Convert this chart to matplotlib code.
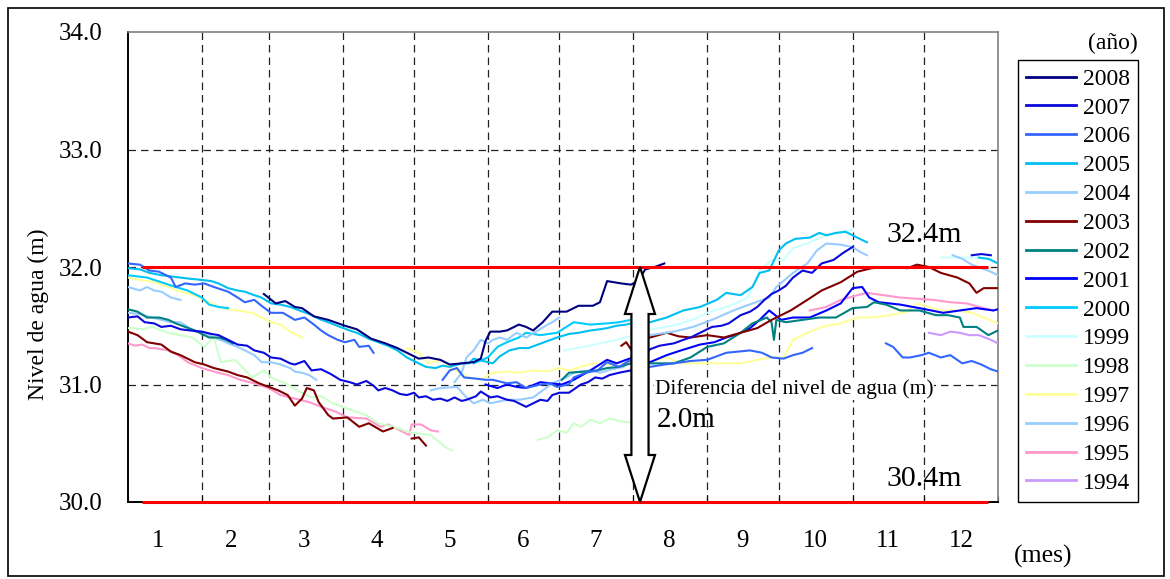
import matplotlib
matplotlib.use('Agg')
import matplotlib.pyplot as plt
from matplotlib.patches import Polygon, Rectangle
import numpy as np

nan = np.nan

# Niveles de referencia (m) y rotulos
nivel_alto = 32.0
nivel_bajo = 30.0
rotulo_alto = "32.4m"
rotulo_bajo = "30.4m"

meses = ["1", "2", "3", "4", "5", "6", "7", "8", "9", "10", "11", "12"]
limites_mes = [0, 31, 59, 90, 120, 151, 181, 212, 243, 273, 304, 334, 365]

# Nivel de agua diario por año (dia del año, m). nan = sin registro
dias_2008 = [57, 62, 66, 70, 73, 78, 84, 91, 96, 102, 108, 113, 117, 122, 126, 131, 135, 140, 145, 148,
             150, 152, 156, 159, 164, 167, 170, 174, 178, 184, 189, 195, 198, 201, 207, 211, 214, 217, 221, 225]
nivel_2008 = [31.77, 31.69, 31.71, 31.66, 31.65, 31.58, 31.55, 31.50, 31.47, 31.39, 31.35, 31.31, 31.27, 31.22,
              31.23, 31.21, 31.17, 31.18, 31.19, 31.22, 31.37, 31.45, 31.45, 31.46, 31.51, 31.49, 31.46, 31.53,
              31.62, 31.62, 31.67, 31.67, 31.70, 31.88, 31.86, 31.85, 31.88, 31.98, 32.00, 32.03]

dias_2007 = [0, 4, 7, 11, 14, 18, 22, 26, 31, 35, 38, 42, 46, 50, 53, 57, 60, 64, 68, 70, 74, 77, 81, 85,
             89, 93, 96, 100, 103, 105, 108, 111, 114, 117, 120, 122, 125, 128, 131, 134, 137, 140, 142,
             146, 148, 152, 155, 159, 162, 164, 167, 170, 173, 176, 178, 181, 185, 190, 193, 196, 199,
             202, 206, 211, 219, 223, 229, 233, 236, 240, 245, 249, 252, 257, 261, 264, 267, 270, 273,
             276, 279, 283, 287, 291, 296, 300, 304, 305, 354, 358, 362]
nivel_2007 = [31.57, 31.58, 31.53, 31.52, 31.49, 31.50, 31.47, 31.46, 31.45, 31.43, 31.42, 31.38, 31.34,
              31.33, 31.29, 31.27, 31.23, 31.22, 31.18, 31.17, 31.20, 31.12, 31.13, 31.09, 31.04, 31.02,
              31.00, 31.03, 30.99, 30.95, 30.97, 30.95, 30.92, 30.91, 30.93, 30.89, 30.90, 30.87, 30.88,
              30.86, 30.89, 30.86, 30.87, 30.90, 30.94, 30.89, 30.90, 30.87, 30.86, 30.84, 30.81, 30.84,
              30.87, 30.86, 30.91, 30.93, 30.93, 31.00, 31.02, 31.06, 31.05, 31.08, 31.10, 31.12, 31.30,
              31.33, 31.35, 31.38, 31.40, 31.44, 31.49, 31.50, 31.52, 31.59, 31.62, 31.66, 31.72, 31.77,
              31.80, 31.84, 31.91, 31.97, 31.95, 32.03, 32.06, 32.12, 32.17, nan, 32.10, 32.11, 32.10]

dias_2006 = [0, 5, 9, 13, 18, 20, 24, 28, 32, 36, 42, 46, 49, 53, 56, 60, 65, 70, 74, 78, 81, 84, 88, 91,
             95, 97, 101, 103, 104,
             132, 135, 138, 141, 146, 150, 153, 159, 163, 167, 173, 177, 180, 185, 187, 192, 197, 201,
             206, 211, 219, 225, 229, 236, 243, 247, 251, 256, 261, 266, 270, 275, 279, 283, 287, 288,
             318, 321, 325, 328, 333, 336, 341, 345, 350, 354, 358, 362, 365]
nivel_2006 = [32.03, 32.02, 31.97, 31.96, 31.91, 31.83, 31.86, 31.85, 31.86, 31.83, 31.79, 31.74, 31.70,
              31.72, 31.67, 31.61, 31.61, 31.55, 31.57, 31.51, 31.46, 31.42, 31.38, 31.36, 31.38, 31.32,
              31.33, 31.27, nan,
              31.04, 31.12, 31.14, 31.06, 31.05, 31.04, 31.04, 31.01, 31.02, 30.97, 31.00, 31.01, 30.98,
              31.00, 31.06, 31.10, 31.12, 31.19, 31.15, 31.21, 31.15, 31.17, 31.18, 31.20, 31.21, 31.24,
              31.27, 31.28, 31.29, 31.27, 31.23, 31.22, 31.25, 31.27, 31.31, nan,
              31.35, 31.32, 31.23, 31.23, 31.25, 31.27, 31.23, 31.25, 31.18, 31.20, 31.17, 31.13, 31.11]

dias_2005 = [0, 5, 9, 14, 18, 22, 26, 31, 35, 38, 42, 46, 49, 53, 56, 60, 64, 68, 72, 76, 80, 84, 89, 93,
             96, 101, 105, 109, 113, 117, 121, 125, 129, 132, 135, 140, 143, 145, 149, 153, 156, 160, 164,
             168, 172, 176, 180, 185, 189, 194, 198, 201, 205, 209, 213, 219, 226, 233, 240, 247, 251,
             257, 262, 265, 269, 273, 276, 280, 286, 290, 293, 297, 301, 306, 308, 310, 311,
             357, 361, 365]
nivel_2005 = [31.99, 31.98, 31.95, 31.93, 31.92, 31.91, 31.90, 31.89, 31.88, 31.86, 31.82, 31.80, 31.79,
              31.76, 31.74, 31.69, 31.68, 31.66, 31.63, 31.60, 31.56, 31.53, 31.49, 31.46, 31.44, 31.39,
              31.36, 31.33, 31.29, 31.23, 31.19, 31.15, 31.14, 31.16, 31.15, 31.18, 31.18, 31.22, 31.20,
              31.18, 31.24, 31.29, 31.31, 31.31, 31.34, 31.37, 31.40, 31.43, 31.44, 31.46, 31.47, 31.48,
              31.50, 31.51, 31.53, 31.53, 31.57, 31.63, 31.66, 31.72, 31.78, 31.76, 31.83, 31.95, 31.97,
              32.14, 32.20, 32.24, 32.25, 32.29, 32.27, 32.29, 32.30, 32.25, 32.23, 32.21, nan,
              32.08, 32.07, 32.03]

dias_2004 = [0, 5, 8, 11, 14, 18, 22, 23,
             137, 140, 142, 145, 148, 151, 153, 156, 159, 163, 167, 172, 176, 178, 181, 182,
             219, 229, 237, 245, 254, 262, 269, 272, 279, 285, 289, 293, 299, 304, 307, 310, 311,
             346, 350, 354, 358, 362, 365]
nivel_2004 = [31.83, 31.80, 31.83, 31.80, 31.79, 31.74, 31.72, nan,
              31.02, 31.10, 31.23, 31.29, 31.38, 31.35, 31.38, 31.40, 31.38, 31.44, 31.40, 31.46, 31.51,
              31.53, 31.57, nan,
              31.42, 31.45, 31.49, 31.55, 31.63, 31.69, 31.74, 31.83, 31.95, 32.03, 32.14, 32.20, 32.19,
              32.17, 32.13, 32.10, nan,
              32.10, 32.07, 32.02, 31.99, 31.96, 31.93]

dias_2003 = [0, 4, 8, 11, 14, 18, 22, 28, 32, 36, 42, 46, 50, 55, 59, 63, 67, 70, 73, 75, 78, 80, 84, 86,
             92, 97, 101, 107, 111, 115, 119, 122, 125, 126,
             207, 209, 211, 212,
             219, 226, 231, 236, 243, 250, 257, 264, 270, 278, 285, 291, 299, 306, 312, 320, 327, 331,
             336, 341, 348, 353, 356, 359, 365]
nivel_2003 = [31.45, 31.42, 31.36, 31.35, 31.34, 31.28, 31.25, 31.19, 31.17, 31.14, 31.11, 31.08, 31.06,
              31.01, 30.98, 30.95, 30.91, 30.82, 30.88, 30.97, 30.95, 30.85, 30.74, 30.71, 30.72, 30.64,
              30.67, 30.60, 30.63, nan, 30.54, 30.55, 30.48, nan,
              31.33, 31.36, 31.30, nan,
              31.40, 31.44, 31.41, 31.40, 31.42, 31.40, 31.44, 31.48, 31.55, 31.63, 31.72, 31.80, 31.87,
              31.96, 31.99, 32.00, 31.99, 32.02, 32.00, 31.95, 31.91, 31.86, 31.78, 31.82, 31.82]

dias_2002 = [0, 4, 8, 13, 17, 20, 24, 28, 34, 38, 41, 44, 45,
             182, 185, 191, 197, 201, 206, 211, 219, 229, 236, 243, 250, 257, 262, 268, 270, 271, 272,
             276, 283, 290, 297, 304, 310, 313, 318, 324, 332, 339, 344, 349, 350.5, 356, 361, 365]
nivel_2002 = [31.64, 31.62, 31.57, 31.57, 31.55, 31.52, 31.49, 31.46, 31.40, 31.40, 31.38, 31.35, nan,
              31.04, 31.10, 31.11, 31.12, 31.14, 31.15, 31.18, 31.18, 31.18, 31.23, 31.32, 31.35, 31.44,
              31.52, 31.57, 31.53, 31.38, 31.55, 31.53, 31.55, 31.57, 31.57, 31.65, 31.66, 31.70, 31.68,
              31.63, 31.63, 31.59, 31.59, 31.57, 31.49, 31.49, 31.42, 31.46]

dias_2001 = [150, 155, 159, 163, 167, 173, 177, 182, 187, 194, 201, 205, 209, 212, 219, 226, 232, 240,
             246, 251, 256, 261, 265, 269, 274, 279, 286, 293, 299, 304, 308, 311, 315, 324, 332, 337,
             342, 349, 356, 363, 365]
nivel_2001 = [31.00, 30.97, 31.00, 30.98, 30.97, 31.02, 31.01, 31.00, 31.04, 31.12, 31.21, 31.18, 31.21,
              31.23, 31.19, 31.25, 31.29, 31.34, 31.36, 31.40, 31.43, 31.48, 31.55, 31.63, 31.55, 31.57,
              31.57, 31.63, 31.69, 31.82, 31.83, 31.74, 31.70, 31.68, 31.65, 31.63, 31.61, 31.63, 31.65,
              31.63, 31.64]

dias_2000 = [0, 4, 8, 14, 20, 25, 31, 34, 38, 42, 43,
             145, 151, 155, 159, 164, 167, 173, 180, 187, 194, 201, 206, 211]
nivel_2000 = [31.93, 31.92, 31.91, 31.87, 31.83, 31.80, 31.74, 31.68, 31.66, 31.65, nan,
              31.18, 31.23, 31.32, 31.36, 31.40, 31.44, 31.42, 31.44, 31.53, 31.51, 31.52, 31.53, 31.55]

dias_1999 = [183, 191, 198, 205, 212, 213,
             219, 226, 232, 238, 243, 251, 256, 260, 265, 270, 275, 279, 286, 293, 297, 301, 304, 305,
             341, 349, 356, 362]
nivel_1999 = [31.29, 31.32, 31.35, 31.38, 31.42, nan,
              31.47, 31.49, 31.52, 31.56, 31.61, 31.66, 31.70, 31.74, 31.97, 32.06, 32.06, 32.16, 32.21,
              32.27, 32.29, 32.30, 32.32, nan,
              32.08, 32.08, 32.08, 32.06]

dias_1998 = [0, 2, 6, 10, 17, 22, 27, 32, 36, 39, 45, 52, 57, 60, 66, 71, 77, 81, 86, 94, 100, 105, 111,
             119, 127, 133, 136, 137,
             172, 176, 180, 184, 187, 190, 194, 198, 202, 208, 211]
nivel_1998 = [31.48, 31.48, 31.47, 31.49, 31.44, 31.42, 31.40, 31.32, 31.40, 31.19, 31.21, 31.06, 31.12,
              31.06, 31.01, 30.95, 30.89, 30.90, 30.84, 30.78, 30.74, 30.67, 30.64, 30.59, 30.57, 30.47,
              30.44, nan,
              30.53, 30.55, 30.61, 30.59, 30.67, 30.64, 30.70, 30.67, 30.71, 30.68, 30.68]

dias_1997 = [0, 5, 11, 17, 22, 28, 34, 39, 46, 52, 56, 60, 64, 68, 73, 74,
             117, 122, 126, 131, 135, 139, 143, 148, 153, 159, 164, 170, 176, 181, 185, 190, 195, 201,
             206, 211, 219, 226, 232, 243, 251, 257, 264, 270, 275, 279, 285, 291, 299, 306, 312, 320,
             327, 331, 336, 341, 348, 354, 365]
nivel_1997 = [31.91, 31.89, 31.87, 31.83, 31.79, 31.76, 31.70, 31.65, 31.63, 31.61, 31.57, 31.53, 31.51,
              31.45, 31.40, nan,
              31.31, 31.27, 31.18, 31.21, 31.15, 31.10, 31.06, 31.04, 31.10, 31.11, 31.10, 31.12, 31.11,
              31.14, 31.12, 31.15, 31.18, 31.17, 31.18, 31.19, 31.19, 31.23, 31.18, 31.18, 31.18, 31.18,
              31.21, 31.23, 31.23, 31.38, 31.44, 31.49, 31.52, 31.57, 31.57, 31.59, 31.62, 31.69, 31.66,
              31.63, 31.63, 31.61, 31.52]

dias_1996 = [0, 5, 10, 14, 18, 22, 28, 31, 36, 40, 42, 46, 49, 53, 56, 60, 64, 68, 70, 73, 76, 79, 80,
             127, 131, 138, 142, 145, 149, 152, 159, 164, 170, 174, 178, 184, 187, 194, 198, 203, 208, 211]
nivel_1996 = [31.61, 31.60, 31.57, 31.55, 31.53, 31.53, 31.45, 31.45, 31.40, 31.37, 31.35, 31.32, 31.29,
              31.25, 31.19, 31.19, 31.17, 31.14, 31.11, 31.10, 31.08, 31.04, nan,
              30.95, 30.97, 30.98, 30.89, 30.84, 30.87, 30.84, 30.87, 30.87, 30.89, 30.95, 31.01, 31.06,
              31.10, 31.12, 31.10, 31.13, 31.15, 31.23]

dias_1995 = [0, 3, 6, 9, 11, 14, 17, 21, 25, 31, 36, 42, 47, 53, 59, 64, 70, 76, 81, 87, 92, 100, 106,
             109, 114, 118, 119, 123, 127, 130, 131,
             286, 293, 299, 306, 310, 317, 324, 331, 338, 345, 352, 357, 363]
nivel_1995 = [31.35, 31.33, 31.34, 31.31, 31.31, 31.30, 31.29, 31.25, 31.19, 31.14, 31.11, 31.08, 31.04,
              31.01, 30.97, 30.91, 30.88, 30.85, 30.81, 30.77, 30.72, 30.71, 30.64, 30.66, 30.61, 30.57,
              30.66, 30.66, 30.61, 30.60, nan,
              31.63, 31.66, 31.72, 31.76, 31.78, 31.76, 31.74, 31.73, 31.72, 31.70, 31.69, 31.66, 31.63]

dias_1994 = [336, 341, 345, 349, 353, 357, 362, 365]
nivel_1994 = [31.44, 31.42, 31.45, 31.44, 31.42, 31.42, 31.38, 31.35]

anios = [2008, 2007, 2006, 2005, 2004, 2003, 2002, 2001, 2000, 1999, 1998, 1997, 1996, 1995, 1994]
dias = [dias_2008, dias_2007, dias_2006, dias_2005, dias_2004, dias_2003, dias_2002, dias_2001,
        dias_2000, dias_1999, dias_1998, dias_1997, dias_1996, dias_1995, dias_1994]
niveles = [nivel_2008, nivel_2007, nivel_2006, nivel_2005, nivel_2004, nivel_2003, nivel_2002, nivel_2001,
           nivel_2000, nivel_1999, nivel_1998, nivel_1997, nivel_1996, nivel_1995, nivel_1994]
colores = ['#000080', '#0A0ADC', '#3366FF', '#00C0F0', '#99CCFF', '#800000', '#008080', '#0000FF',
           '#00CCFF', '#CCFFFF', '#CCFFCC', '#FFFF99', '#99CCFF', '#FF99CC', '#CC99FF']

plt.rcParams['font.family'] = ['Liberation Serif', 'DejaVu Serif']

W, H = 1170, 579
fig = plt.figure(figsize=(W / 100, H / 100), dpi=100)
ax = fig.add_axes([128 / W, 77 / H, 870 / W, 470 / H])

# cuadricula discontinua interior
for v in (31, 32, 33):
    ax.axhline(v, color='#222222', lw=0.9, ls=(0, (6, 4)), zorder=1)
for d in limites_mes[1:-1]:
    ax.axvline(d, color='#222222', lw=0.9, ls=(0, (6, 4)), zorder=1)

# series anuales (la mas antigua debajo)
handles = {}
for anio, d, v, c in reversed(list(zip(anios, dias, niveles, colores))):
    ln, = ax.plot(d, v, color=c, lw=1.5, zorder=3, label=str(anio))
    handles[anio] = ln

# niveles maximo y minimo
ax.hlines([nivel_alto, nivel_bajo], 6, 361, colors='#FF0000', lw=2.2, zorder=4, clip_on=False)

# flecha doble de diferencia de nivel
xc, sw, hw, hl = 214.8, 3.6, 6.3, 0.40
flecha = [(xc, nivel_alto), (xc + hw, nivel_alto - hl), (xc + sw, nivel_alto - hl),
          (xc + sw, nivel_bajo + hl), (xc + hw, nivel_bajo + hl), (xc, nivel_bajo),
          (xc - hw, nivel_bajo + hl), (xc - sw, nivel_bajo + hl), (xc - sw, nivel_alto - hl),
          (xc - hw, nivel_alto - hl)]
ax.add_patch(Polygon(flecha, closed=True, facecolor='white', edgecolor='black', lw=1.6, zorder=6,
                     clip_on=False))

diferencia = nivel_alto - nivel_bajo
ax.text(221, 30.96, "Diferencia del nivel de agua (m)", fontsize=15.4, va='center', ha='left',
        zorder=5, bbox=dict(facecolor='white', edgecolor='none', pad=0.5))
ax.text(222, 30.70, f"{diferencia:.1f}m", fontsize=21, va='center', ha='left', zorder=5)
ax.text(318, 32.27, rotulo_alto, fontsize=21.5, va='center', ha='left', zorder=5)
ax.text(318, 30.20, rotulo_bajo, fontsize=21.5, va='center', ha='left', zorder=5)

ax.set_xlim(0, 365)
ax.set_ylim(30, 34)
ax.set_yticks([30, 31, 32, 33, 34])
ax.set_yticklabels([f"{t:.1f}" for t in [30, 31, 32, 33, 34]])
ax.tick_params(axis='y', length=0, pad=18, labelsize=18)
ax.set_xticks(limites_mes)
ax.set_xticklabels([])
ax.tick_params(axis='x', which='major', direction='in', length=4, width=0.8)
# rotulos de mes a intervalos iguales
ax.set_xticks(np.linspace(12.5, 349.5, len(meses)), minor=True)
ax.set_xticklabels(meses, minor=True)
ax.tick_params(axis='x', which='minor', length=0, pad=20, labelsize=18)

for s in ('left', 'bottom'):
    ax.spines[s].set_color('black')
    ax.spines[s].set_linewidth(1.4)
for s in ('top', 'right'):
    ax.spines[s].set_color('#808080')
    ax.spines[s].set_linewidth(1.2)

fig.text(38 / W, 1 - 314 / H, "Nivel de agua (m)", rotation=90, ha='center', va='center', fontsize=17)
fig.text(1043 / W, 1 - 556 / H, "(mes)", ha='center', va='center', fontsize=18.5)
fig.text(1138 / W, 1 - 43 / H, "(año)", ha='right', va='center', fontsize=17)

leg = fig.legend([handles[a] for a in anios], [str(a) for a in anios], loc='upper left',
                 bbox_to_anchor=(1018 / W, 1 - 60 / H), fontsize=17, handlelength=2.1,
                 handletextpad=0.3, labelspacing=0.31, borderpad=0.35, borderaxespad=0,
                 fancybox=False, framealpha=1, edgecolor='black')
leg.get_frame().set_linewidth(1.0)
for ln in leg.get_lines():
    ln.set_linewidth(2)

# marco exterior
fig.add_artist(Rectangle((8 / W, 3 / H), 1156 / W, 568 / H, transform=fig.transFigure,
                         fill=False, edgecolor='black', lw=1.2))

fig.savefig('out.png', dpi=100)
